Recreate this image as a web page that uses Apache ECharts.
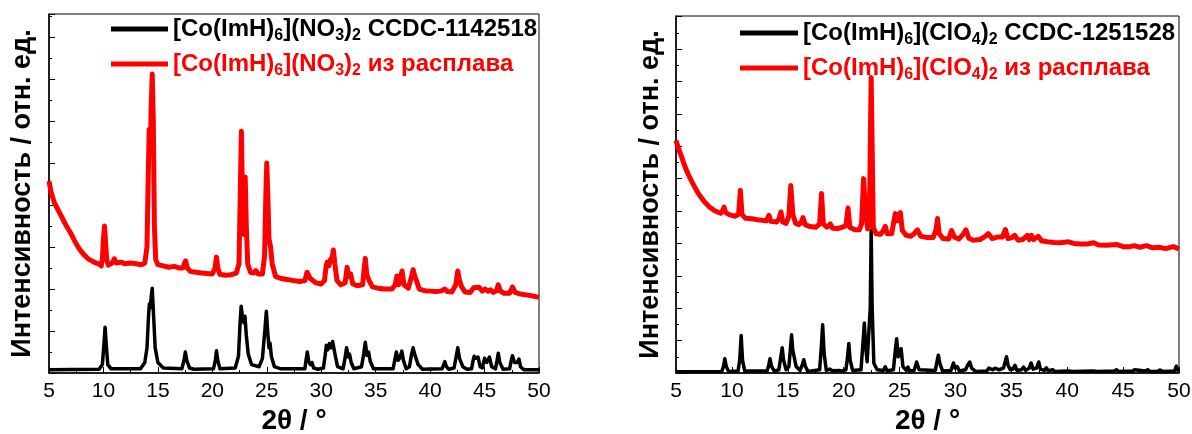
<!DOCTYPE html>
<html>
<head>
<meta charset="utf-8">
<script src="https://cdn.jsdelivr.net/npm/echarts@6/dist/echarts.min.js"></script>
<style>html,body{margin:0;padding:0;background:#fff}#c{width:1192px;height:434px}</style>
</head>
<body>
<div id="c"></div>
<script>
// ---------- data ----------
const xTicks = [5,10,15,20,25,30,35,40,45,50];
const yTitle = 'Интенсивность / отн. ед.';
const xTitle = '2θ / °';

const nameNo3Ref = 'NO3 CCDC';
const nameNo3Melt = 'NO3 melt';
const nameClo4Ref = 'ClO4 CCDC';
const nameClo4Melt = 'ClO4 melt';

// [2θ, intensity] — left panel, reference (black)
const no3Ref = [[5,0.08],[9.6,0.09],[9.9,0.2],[10.05,0.7],[10.15,1.09],[10.25,0.7],[10.4,0.2],[10.7,0.1],
[13.4,0.1],[13.8,0.25],[14.0,0.6],[14.15,1.4],[14.22,1.65],[14.3,1.55],[14.4,1.85],[14.48,2.02],[14.58,1.5],[14.75,0.6],[15.0,0.25],[15.5,0.12],
[17.2,0.1],[17.4,0.3],[17.52,0.5],[17.65,0.3],[17.8,0.2],[17.9,0.12],[18.3,0.09],
[20.1,0.1],[20.28,0.3],[20.38,0.53],[20.5,0.3],[20.7,0.1],
[22.1,0.12],[22.4,0.4],[22.55,1.2],[22.65,1.59],[22.78,1.3],[22.9,1.2],[23.0,1.35],[23.12,0.9],[23.3,0.45],[23.6,0.2],[24.3,0.15],[24.6,0.35],[24.85,1.1],[24.96,1.47],[25.08,1.0],[25.2,0.6],[25.3,0.71],[25.42,0.4],[25.7,0.15],[26.3,0.1],
[28.5,0.1],[28.6,0.3],[28.72,0.5],[28.85,0.28],[29.0,0.2],[29.15,0.25],[29.3,0.12],[29.7,0.09],
[30.2,0.12],[30.35,0.4],[30.47,0.66],[30.6,0.55],[30.75,0.7],[30.9,0.6],[31.05,0.75],[31.14,0.79],[31.3,0.4],[31.5,0.15],[32.0,0.1],
[32.15,0.3],[32.33,0.6],[32.48,0.38],[32.6,0.45],[32.75,0.25],[33.0,0.1],
[33.7,0.15],[33.9,0.45],[34.05,0.73],[34.2,0.42],[34.35,0.5],[34.5,0.28],[34.8,0.1],
[36.6,0.1],[36.75,0.3],[36.9,0.5],[37.05,0.3],[37.2,0.35],[37.4,0.52],[37.55,0.3],[37.8,0.1],
[38.1,0.15],[38.3,0.45],[38.44,0.6],[38.58,0.45],[38.75,0.42],[38.9,0.2],[39.3,0.09],
[41.1,0.1],[41.25,0.2],[41.35,0.27],[41.5,0.15],[41.7,0.09],
[42.2,0.12],[42.4,0.4],[42.54,0.6],[42.7,0.35],[42.85,0.32],[43.0,0.15],[43.4,0.09],
[43.8,0.1],[43.95,0.3],[44.05,0.4],[44.2,0.35],[44.4,0.38],[44.6,0.15],
[44.8,0.12],[45.0,0.35],[45.2,0.25],[45.45,0.38],[45.65,0.15],[46.0,0.1],[46.15,0.3],[46.26,0.47],[46.4,0.25],[46.7,0.09],
[47.3,0.1],[47.45,0.3],[47.56,0.41],[47.75,0.25],[48.0,0.25],[48.16,0.33],[48.3,0.15],[48.6,0.08],[50,0.08]];

// left panel, from melt (red)
const no3Melt = [[5.0,4.57],[5.2,4.3],[5.5,4.05],[5.8,3.9],[6.0,3.8],[6.3,3.65],[6.6,3.5],[7.0,3.33],[7.4,3.12],[7.8,2.95],[8.2,2.82],[8.6,2.72],[9.0,2.66],[9.3,2.62],[9.6,2.6],[9.8,2.55],[9.9,2.7],[10.0,3.2],[10.1,3.5],[10.2,3.1],[10.3,2.7],[10.45,2.57],[10.8,2.62],[11.0,2.72],[11.2,2.62],[11.6,2.64],[12.0,2.6],[12.5,2.62],[13.0,2.6],[13.5,2.58],[13.8,2.62],[14.0,3.0],[14.1,4.5],[14.2,5.8],[14.3,5.2],[14.38,6.3],[14.48,7.12],[14.58,6.0],[14.68,3.5],[14.8,2.7],[15.0,2.58],[15.5,2.55],[16.0,2.52],[16.5,2.54],[17.0,2.5],[17.3,2.5],[17.45,2.62],[17.55,2.67],[17.7,2.5],[18.0,2.42],[18.5,2.4],[19.0,2.38],[19.5,2.37],[20.0,2.36],[20.25,2.5],[20.38,2.76],[20.5,2.5],[20.7,2.35],[21.2,2.33],[21.7,2.34],[22.2,2.38],[22.45,2.6],[22.58,4.5],[22.67,5.76],[22.78,4.0],[22.87,3.3],[22.95,4.2],[23.02,4.67],[23.12,3.5],[23.25,2.6],[23.5,2.4],[23.8,2.38],[24.0,2.44],[24.2,2.36],[24.6,2.36],[24.8,2.8],[24.92,4.3],[25.0,5.0],[25.1,4.2],[25.2,3.2],[25.35,3.0],[25.5,2.6],[25.8,2.3],[26.3,2.25],[27.0,2.22],[27.5,2.2],[28.0,2.18],[28.5,2.2],[28.7,2.4],[28.8,2.43],[29.0,2.25],[29.5,2.15],[30.0,2.12],[30.3,2.2],[30.45,2.55],[30.55,2.64],[30.7,2.55],[30.85,2.7],[31.0,2.75],[31.12,2.93],[31.25,2.6],[31.45,2.2],[31.8,2.1],[32.2,2.15],[32.38,2.52],[32.5,2.3],[32.7,2.36],[32.9,2.12],[33.3,2.08],[33.8,2.1],[33.95,2.5],[34.05,2.73],[34.18,2.35],[34.4,2.2],[34.7,2.05],[35.2,2.02],[35.8,2.0],[36.5,2.0],[36.8,2.1],[36.95,2.31],[37.1,2.1],[37.3,2.3],[37.42,2.43],[37.6,2.1],[38.0,2.02],[38.3,2.3],[38.44,2.46],[38.6,2.3],[38.75,2.2],[39.0,2.0],[39.5,1.96],[40.0,1.95],[40.5,1.94],[41.0,1.95],[41.35,2.0],[41.6,1.94],[42.0,1.93],[42.35,2.1],[42.54,2.43],[42.7,2.2],[42.9,2.05],[43.2,1.93],[43.7,1.92],[44.0,2.03],[44.15,2.07],[44.5,2.04],[44.8,1.95],[45.05,2.0],[45.3,1.95],[45.55,1.98],[45.8,1.92],[46.1,1.96],[46.26,2.1],[46.45,1.95],[46.8,1.9],[47.3,1.9],[47.56,2.05],[47.8,1.92],[48.3,1.88],[48.8,1.86],[49.3,1.84],[49.7,1.82],[50.0,1.8]];

// right panel, reference (black)
const clo4Ref = [[5,0.04],[9.1,0.05],[9.25,0.2],[9.37,0.44],[9.5,0.2],[9.7,0.05],
[10.55,0.06],[10.7,0.4],[10.83,1.16],[10.95,0.4],[11.15,0.06],
[13.15,0.06],[13.3,0.25],[13.41,0.44],[13.55,0.2],[13.8,0.06],
[14.2,0.1],[14.38,0.5],[14.5,0.78],[14.62,0.4],[14.85,0.1],[15.1,0.2],[15.25,0.8],[15.34,1.18],[15.45,0.7],[15.61,0.65],[15.75,0.2],[16.1,0.08],[16.3,0.25],[16.43,0.41],[16.58,0.2],[16.8,0.05],
[17.85,0.1],[18.0,0.8],[18.12,1.49],[18.25,0.6],[18.45,0.08],[18.75,0.12],[18.87,0.16],[19.0,0.07],[19.6,0.08],[19.72,0.12],[19.85,0.06],
[20.2,0.1],[20.35,0.5],[20.46,0.91],[20.58,0.4],[20.8,0.08],
[21.55,0.1],[21.72,0.9],[21.85,1.54],[21.97,0.8],[22.1,0.35],[22.25,0.3],[22.38,2.0],[22.46,4.4],[22.55,2.0],[22.7,0.3],[23.0,0.1],[23.55,0.08],[23.72,0.19],[23.88,0.07],
[24.45,0.1],[24.62,0.7],[24.74,1.06],[24.88,0.5],[25.0,0.5],[25.14,0.75],[25.3,0.2],[25.6,0.08],[25.75,0.18],[25.9,0.06],
[26.3,0.08],[26.53,0.34],[26.75,0.1],[28.2,0.08],[28.35,0.35],[28.47,0.55],[28.6,0.3],[28.85,0.06],
[29.6,0.08],[29.82,0.31],[29.98,0.15],[30.16,0.2],[30.35,0.06],[30.9,0.1],[31.1,0.25],[31.28,0.34],[31.45,0.15],[31.8,0.05],
[32.8,0.06],[33.0,0.15],[33.14,0.18],[33.35,0.1],[33.55,0.15],[33.7,0.19],[33.9,0.1],[34.3,0.15],[34.45,0.35],[34.57,0.5],[34.7,0.25],[34.9,0.1],[35.15,0.12],[35.32,0.24],[35.5,0.08],
[35.9,0.1],[36.1,0.18],[36.3,0.08],[36.6,0.15],[36.77,0.31],[36.95,0.12],[37.25,0.15],[37.45,0.34],[37.6,0.12],[37.95,0.08],[38.13,0.16],[38.3,0.07],[38.7,0.1],[38.9,0.05],
[40.1,0.06],[40.27,0.1],[40.45,0.05],[42.3,0.06],[42.47,0.1],[42.65,0.05],[44.2,0.06],[44.4,0.1],[44.6,0.05],[45.85,0.06],[46.03,0.1],[46.2,0.05],[47.0,0.06],[47.2,0.1],[47.4,0.05],[48.1,0.05],[48.3,0.09],[48.5,0.05],[49.6,0.06],[49.76,0.21],[49.9,0.08],[50,0.06]];

// right panel, from melt (red)
const clo4Melt = [[5.0,7.18],[5.25,6.9],[5.5,6.67],[5.75,6.42],[6.0,6.2],[6.5,5.85],[7.0,5.54],[7.5,5.3],[8.0,5.12],[8.5,5.0],[9.0,4.93],[9.15,5.0],[9.3,5.12],[9.45,4.95],[9.8,4.88],[10.3,4.84],[10.6,4.9],[10.76,5.64],[10.9,4.9],[11.2,4.78],[11.8,4.76],[12.5,4.72],[13.1,4.7],[13.31,4.87],[13.5,4.68],[14.0,4.66],[14.2,4.75],[14.39,4.97],[14.55,4.66],[14.85,4.62],[15.1,4.85],[15.27,5.79],[15.45,4.9],[15.7,4.62],[16.0,4.58],[16.2,4.65],[16.36,4.8],[16.55,4.58],[17.0,4.52],[17.5,4.5],[17.85,4.6],[18.02,5.54],[18.18,4.6],[18.5,4.5],[18.8,4.6],[19.0,4.47],[19.5,4.46],[19.9,4.5],[20.2,4.55],[20.39,5.09],[20.55,4.5],[21.0,4.42],[21.4,4.42],[21.6,4.6],[21.78,6.0],[21.95,5.0],[22.15,4.45],[22.3,4.6],[22.38,7.0],[22.46,9.12],[22.55,7.0],[22.65,4.5],[22.9,4.3],[23.3,4.28],[23.55,4.4],[23.72,4.53],[23.9,4.3],[24.3,4.3],[24.5,4.7],[24.63,4.92],[24.82,4.7],[25.07,4.95],[25.25,4.4],[25.6,4.25],[26.0,4.22],[26.3,4.3],[26.6,4.42],[26.9,4.22],[27.5,4.18],[28.0,4.18],[28.25,4.4],[28.4,4.77],[28.55,4.3],[28.9,4.15],[29.4,4.14],[29.65,4.4],[29.9,4.2],[30.3,4.14],[30.7,4.28],[30.94,4.42],[31.2,4.16],[31.6,4.1],[32.2,4.12],[32.6,4.2],[32.94,4.3],[33.3,4.15],[33.8,4.2],[34.2,4.2],[34.47,4.43],[34.7,4.15],[35.0,4.17],[35.3,4.25],[35.6,4.1],[36.0,4.12],[36.43,4.25],[36.6,4.12],[36.8,4.25],[37.0,4.12],[37.4,4.22],[37.7,4.08],[38.2,4.05],[38.8,4.03],[39.4,4.02],[40.1,4.05],[40.6,4.0],[41.2,3.98],[41.8,3.98],[42.37,4.02],[42.8,3.95],[43.5,3.94],[44.4,3.97],[45.0,3.9],[45.6,3.9],[46.0,3.93],[46.5,3.88],[47.1,3.93],[47.6,3.87],[48.2,3.88],[48.8,3.84],[49.5,3.9],[50.0,3.83]];

// legend labels (rich text)
const legendText = {};
legendText[nameNo3Ref] = '{t|[Co(ImH)}{s|6}{t|](NO}{s|3}{t|)}{s|2}{t| CCDC-1142518}';
legendText[nameNo3Melt] = '{t|[Co(ImH)}{s|6}{t|](NO}{s|3}{t|)}{s|2}{t| из расплава}';
legendText[nameClo4Ref] = '{t|[Co(ImH)}{s|6}{t|](ClO}{s|4}{t|)}{s|2}{t| CCDC-1251528}';
legendText[nameClo4Melt] = '{t|[Co(ImH)}{s|6}{t|](ClO}{s|4}{t|)}{s|2}{t| из расплава}';

// ---------- chart ----------
const FONT = 'Liberation Sans, Arial, sans-serif';
const chart = echarts.init(document.getElementById('c'), null, {renderer: 'canvas'});

function xAxisCfg(gi) {
  return {
    type: 'value', gridIndex: gi, min: 5, max: 50, interval: 5,
    name: xTitle, nameLocation: 'middle', nameGap: 33,
    nameTextStyle: {fontFamily: FONT, fontSize: 28, fontWeight: 'bold', color: '#000'},
    axisLine: {show: true, onZero: false, lineStyle: {color: '#000', width: 1.5}},
    axisTick: {show: true, inside: true, length: 6, lineStyle: {color: '#000', width: 1}},
    minorTick: {show: true, splitNumber: 2, length: 3, lineStyle: {color: '#000', width: 1}},
    axisLabel: {show: true, margin: 8, fontFamily: FONT, fontSize: 21, color: '#000',
      formatter: v => xTicks.indexOf(v) >= 0 ? String(v) : ''},
    splitLine: {show: false}
  };
}
function yAxisCfg(gi, max, gap) {
  return {
    type: 'value', gridIndex: gi, min: 0, max: max, interval: 1,
    name: yTitle, nameLocation: 'middle', nameRotate: 90, nameGap: gap,
    nameTextStyle: {fontFamily: FONT, fontSize: 27, fontWeight: 'bold', color: '#000'},
    axisLine: {show: true, lineStyle: {color: '#000', width: 1.5}},
    axisTick: {show: true, inside: true, length: 6, lineStyle: {color: '#000', width: 1}},
    minorTick: {show: true, splitNumber: 2, length: 3, lineStyle: {color: '#000', width: 1}},
    axisLabel: {show: false},
    splitLine: {show: false}
  };
}
function lineSeries(name, data, gi, color, w) {
  return {
    type: 'line', name: name, data: data, xAxisIndex: gi, yAxisIndex: gi,
    symbol: 'none', smooth: false, clip: true, animation: false,
    lineStyle: {color: color, width: w, join: 'round'}, itemStyle: {color: color}
  };
}
function legendCfg(name, left, top, color, iw) {
  return {
    data: [{name: name, icon: 'rect'}], left: left, top: top, orient: 'vertical',
    itemWidth: iw, itemHeight: 5, itemGap: 6, selectedMode: false,
    formatter: n => legendText[n],
    textStyle: {
      rich: {
        t: {fontFamily: FONT, fontSize: 24, fontWeight: 'bold', color: color, lineHeight: 30, verticalAlign: 'middle'},
        s: {fontFamily: FONT, fontSize: 16, fontWeight: 'bold', color: color, lineHeight: 16, verticalAlign: 'bottom'}
      }
    }
  };
}

chart.setOption({
  backgroundColor: '#fff',
  animation: false,
  grid: [
    {left: 49, top: 14, width: 490, height: 359, show: true, borderColor: '#000', borderWidth: 1, containLabel: false, outerBoundsMode: 'none'},
    {left: 676, top: 16, width: 503, height: 357, show: true, borderColor: '#000', borderWidth: 1, containLabel: false, outerBoundsMode: 'none'}
  ],
  xAxis: [xAxisCfg(0), xAxisCfg(1)],
  yAxis: [yAxisCfg(0, 8.55, 13), yAxisCfg(1, 11.02, 12)],
  legend: [
    legendCfg(nameNo3Ref, 106, 12, '#000', 57),
    legendCfg(nameNo3Melt, 106, 47, '#ff0000', 57),
    legendCfg(nameClo4Ref, 735, 16, '#000', 58),
    legendCfg(nameClo4Melt, 735, 51, '#ff0000', 58)
  ],
  series: [
    lineSeries(nameNo3Ref, no3Ref, 0, '#000', 3.5),
    lineSeries(nameNo3Melt, no3Melt, 0, '#ff0000', 5),
    lineSeries(nameClo4Ref, clo4Ref, 1, '#000', 3.5),
    lineSeries(nameClo4Melt, clo4Melt, 1, '#ff0000', 5)
  ]
});
</script>
</body>
</html>
